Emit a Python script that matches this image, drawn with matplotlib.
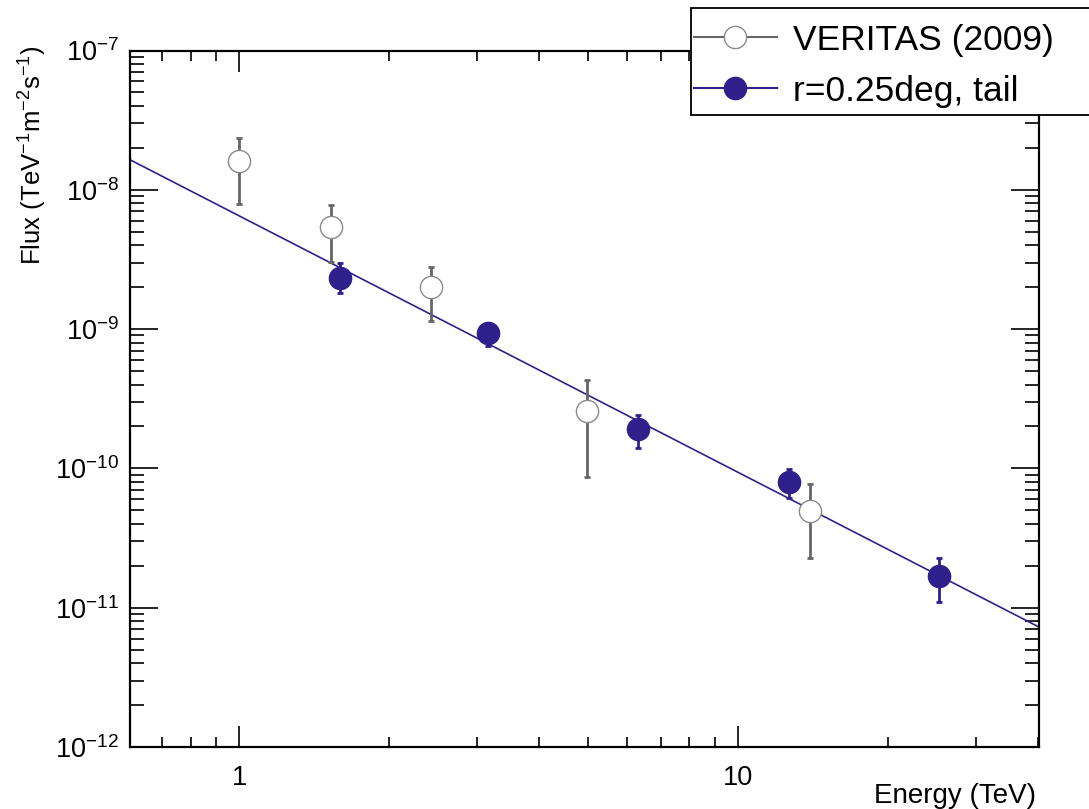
import numpy as np
import matplotlib
matplotlib.use("Agg")
import matplotlib.pyplot as plt
from matplotlib.lines import Line2D
from matplotlib.patches import Rectangle
from matplotlib.ticker import LogLocator, NullFormatter, FixedLocator, FixedFormatter

plt.rcParams['font.family'] = ['Liberation Sans', 'DejaVu Sans']
plt.rcParams['mathtext.fontset'] = 'custom'
plt.rcParams['mathtext.rm'] = 'Liberation Sans'
plt.rcParams['mathtext.it'] = 'Liberation Sans:italic'
plt.rcParams['mathtext.bf'] = 'Liberation Sans:bold'

# ---- data ----
veritas_E = [1.0, 1.53, 2.42, 4.98, 13.96]
veritas_F = [1.61e-8, 5.4e-9, 2.0e-9, 2.58e-10, 4.97e-11]
veritas_Fhi = [2.35e-8, 7.8e-9, 2.8e-9, 4.32e-10, 7.7e-11]
veritas_Flo = [7.9e-9, 3.03e-9, 1.14e-9, 8.7e-11, 2.26e-11]

tail_E = [1.59, 3.16, 6.32, 12.67, 25.3]
tail_F = [2.34e-9, 9.4e-10, 1.91e-10, 7.98e-11, 1.69e-11]
tail_Fhi = [2.96e-9, 1.05e-9, 2.42e-10, 9.9e-11, 2.28e-11]
tail_Flo = [1.81e-9, 7.6e-10, 1.39e-10, 6.1e-11, 1.1e-11]

fit_norm = 6.5e-9   # flux at 1 TeV
fit_index = 1.84

legend_labels = ['VERITAS (2009)', 'r=0.25deg, tail']

xmin, xmax = 0.604, 40.2
ymin, ymax = 1e-12, 1e-7

grey = '#666666'
blue = '#30208c'

W, H = 1089, 809
fig = plt.figure(figsize=(W/100, H/100), dpi=100)
ax = fig.add_axes([130/W, 1-747/H, (1039-130)/W, (747-50.5)/H])
ax.set_xscale('log')
ax.set_yscale('log')
ax.set_xlim(xmin, xmax)
ax.set_ylim(ymin, ymax)

# fit line
xf = np.logspace(np.log10(xmin), np.log10(xmax), 200)
ax.plot(xf, fit_norm * xf**(-fit_index), color=blue, lw=1.2, zorder=2)

vE = np.array(veritas_E); vF = np.array(veritas_F)
verr = [vF - np.array(veritas_Flo), np.array(veritas_Fhi) - vF]
ax.errorbar(vE, vF, yerr=verr, fmt='none', ecolor=grey, elinewidth=2.0,
            capsize=2.5, capthick=2.0, zorder=3)
ax.plot(vE, vF, 'o', ms=16, mfc='white', mec='#8a8a8a', mew=1.0, ls='none', zorder=4)

tE = np.array(tail_E); tF = np.array(tail_F)
terr = [tF - np.array(tail_Flo), np.array(tail_Fhi) - tF]
ax.errorbar(tE, tF, yerr=terr, fmt='none', ecolor=blue, elinewidth=2.0,
            capsize=2.5, capthick=2.0, zorder=5)
ax.plot(tE, tF, 'o', ms=16, mfc=blue, mec=blue, mew=1.0, ls='none', zorder=6)

# ticks
for s in ax.spines.values():
    s.set_linewidth(1.6)
ax.tick_params(which='both', direction='in', top=True, right=True, width=1.2, labelsize=19.5)
ax.tick_params(axis='y', which='major', length=20)
ax.tick_params(axis='y', which='minor', length=10)
ax.tick_params(axis='x', which='major', length=15)
ax.tick_params(axis='x', which='minor', length=7.5)
ax.yaxis.set_major_locator(LogLocator(base=10, numticks=20))
ax.yaxis.set_minor_locator(LogLocator(base=10, subs=np.arange(2, 10), numticks=20))
ax.yaxis.set_minor_formatter(NullFormatter())
ax.xaxis.set_major_locator(FixedLocator([1, 10]))
ax.xaxis.set_major_formatter(FixedFormatter(['1', '10']))
ax.xaxis.set_minor_locator(LogLocator(base=10, subs=np.arange(2, 10), numticks=20))
ax.xaxis.set_minor_formatter(NullFormatter())
ax.tick_params(axis='x', pad=13)
ax.tick_params(axis='y', pad=8)

axh = 747 - 50.5
axw = 1039 - 130
ax.set_xlabel('Energy (TeV)', fontsize=20, ha='right', va='center')
ax.xaxis.set_label_coords(1.0 - 3/axw, -(796 - 747)/axh)
ax.set_ylabel(r'Flux (TeV$^{\mathregular{-1}}$m$^{\mathregular{-2}}$s$^{\mathregular{-1}}$)',
              fontsize=18.5, ha='right', va='bottom')
ax.yaxis.set_label_coords(-(130 - 49)/axw, 1 + 5/axh)

# legend (drawn in figure pixel coordinates, box runs past the right edge as in the reference)
def fx(px): return px / W
def fy(py): return 1 - py / H
fig.patches.append(Rectangle((fx(691), fy(115)), fx(1100) - fx(691), fy(8) - fy(115),
                             transform=fig.transFigure, facecolor='white',
                             edgecolor='black', lw=1.3, zorder=10))
rows = [(37, grey, 'white', '#8a8a8a'), (88, blue, blue, blue)]
for (yc, lc, mf, me), lab in zip(rows, legend_labels):
    fig.add_artist(Line2D([fx(694), fx(777)], [fy(yc), fy(yc)], transform=fig.transFigure,
                          color=lc, lw=1.5, zorder=11))
    fig.add_artist(Line2D([fx(735)], [fy(yc)], transform=fig.transFigure, marker='o', ms=16,
                          mfc=mf, mec=me, mew=1.0, ls='none', zorder=12))
    fig.text(fx(793), fy(yc), lab, fontsize=25.5, ha='left', va='center_baseline', zorder=13)

fig.savefig('out.png', dpi=100)
